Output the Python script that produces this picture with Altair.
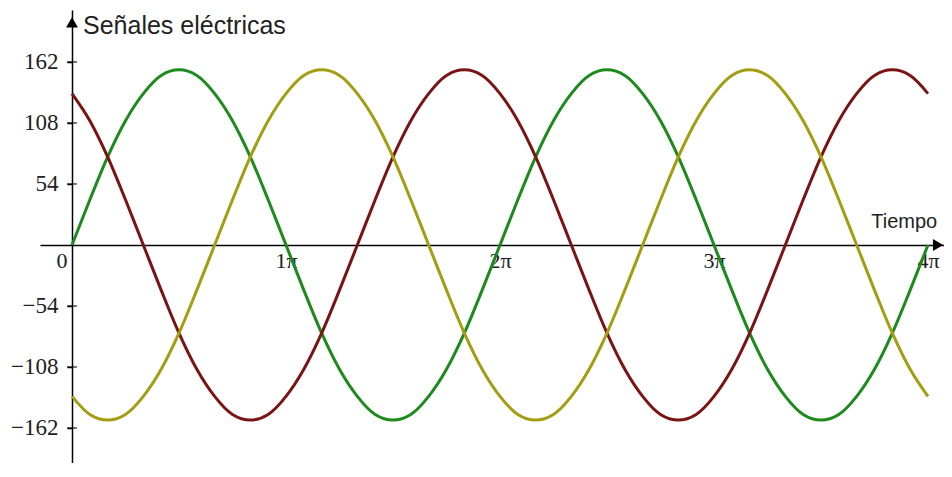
import altair as alt
import pandas as pd

# time in units of pi, steps of pi/12
t_pi = [i / 12 for i in range(49)]

green = [0, 40, 78, 110, 134, 150, 155, 150, 134, 110, 78, 40,
         0, -40, -78, -110, -134, -150, -155, -150, -134, -110, -78, -40,
         0, 40, 78, 110, 134, 150, 155, 150, 134, 110, 78, 40,
         0, -40, -78, -110, -134, -150, -155, -150, -134, -110, -78, -40,
         0]
red = [134, 110, 78, 40, 0, -40, -78, -110, -134, -150, -155, -150,
       -134, -110, -78, -40, 0, 40, 78, 110, 134, 150, 155, 150,
       134, 110, 78, 40, 0, -40, -78, -110, -134, -150, -155, -150,
       -134, -110, -78, -40, 0, 40, 78, 110, 134, 150, 155, 150,
       134]
yellow = [-134, -150, -155, -150, -134, -110, -78, -40, 0, 40, 78, 110,
          134, 150, 155, 150, 134, 110, 78, 40, 0, -40, -78, -110,
          -134, -150, -155, -150, -134, -110, -78, -40, 0, 40, 78, 110,
          134, 150, 155, 150, 134, 110, 78, 40, 0, -40, -78, -110,
          -134]

series_names = ["verde", "roja", "amarilla"]
series_colors = ["#1c8a1c", "#7a1414", "#a39d12"]

y_ticks = [-162, -108, -54, 54, 108, 162]
x_ticks = [0, 1, 2, 3, 4]

x_domain = [-0.1495, 4.0748]
y_domain = [-193, 208]
W, H = 904, 453

rows = []
for name, vals in zip(series_names, [green, red, yellow]):
    for t, v in zip(t_pi, vals):
        rows.append({"t": t, "v": v, "s": name})
df = pd.DataFrame(rows)

xs = alt.Scale(domain=x_domain, nice=False, zero=False)
ys = alt.Scale(domain=y_domain, nice=False, zero=False)

lines = alt.Chart(df).mark_line(strokeWidth=3, interpolate="monotone", clip=True).encode(
    x=alt.X("t:Q", scale=xs,
            axis=alt.Axis(values=x_ticks, title=None, grid=False, ticks=False, tickSize=0,
                          domainColor="black", domainWidth=1.5,
                          offset=-(H - (y_domain[1] / (y_domain[1] - y_domain[0])) * H),
                          labelExpr="datum.value == 0 ? '0' : datum.value + 'π'",
                          labelAlign={"condition": {"test": "datum.value == 0", "value": "right"}, "value": "center"},
                          labelOffset={"condition": {"test": "datum.value == 0", "value": -5}, "value": 0},
                          labelFont="Liberation Serif", labelFontSize=22, labelColor="#222",
                          labelPadding=6, labelFlush=False, labelOverlap=False)),
    y=alt.Y("v:Q", scale=ys,
            axis=alt.Axis(values=y_ticks, title=None, grid=False, ticks=True, tickSize=5,
                          tickColor="black", tickWidth=1.5,
                          domainColor="black", domainWidth=1.5,
                          offset=-(-x_domain[0] / (x_domain[1] - x_domain[0])) * W,
                          labelFont="Liberation Serif", labelFontSize=23, labelColor="#222",
                          labelPadding=9)),
    color=alt.Color("s:N", scale=alt.Scale(domain=series_names, range=series_colors), legend=None),
    detail="s:N",
)

tick_df = pd.DataFrame({"v": y_ticks, "t": [0] * len(y_ticks)})
ticks = alt.Chart(tick_df).mark_tick(orient="horizontal", size=10, thickness=1.5, color="black").encode(
    x=alt.X("t:Q", scale=xs), y=alt.Y("v:Q", scale=ys))

# axis arrows
arrow_up = alt.Chart(pd.DataFrame({"t": [0], "v": [197]})).mark_point(
    shape="triangle-up", filled=True, size=140, color="black", opacity=1, clip=False).encode(
    x=alt.X("t:Q", scale=xs), y=alt.Y("v:Q", scale=ys))
arrow_right = alt.Chart(pd.DataFrame({"t": [4.047], "v": [0]})).mark_point(
    shape="triangle-right", filled=True, size=140, color="black", opacity=1, clip=False).encode(
    x=alt.X("t:Q", scale=xs), y=alt.Y("v:Q", scale=ys))

title_txt = alt.Chart(pd.DataFrame({"t": [0], "v": [187], "label": ["Señales eléctricas"]})).mark_text(
    align="left", baseline="alphabetic", dx=11, font="Liberation Sans", fontSize=25, color="#222").encode(
    x=alt.X("t:Q", scale=xs), y=alt.Y("v:Q", scale=ys), text="label:N")

tiempo_txt = alt.Chart(pd.DataFrame({"t": [3.735], "v": [15], "label": ["Tiempo"]})).mark_text(
    align="left", baseline="alphabetic", font="Liberation Sans", fontSize=20, color="#222").encode(
    x=alt.X("t:Q", scale=xs), y=alt.Y("v:Q", scale=ys), text="label:N")

chart = alt.layer(lines, ticks, arrow_up, arrow_right, title_txt, tiempo_txt).properties(
    width=W, height=H,
    padding={"left": 32, "top": 2, "right": 0, "bottom": 0},
    autosize=alt.AutoSizeParams(type="none"),
    background="white",
).configure_view(stroke=None)

chart.save("out.html", embed_options={"renderer": "svg", "actions": False})
